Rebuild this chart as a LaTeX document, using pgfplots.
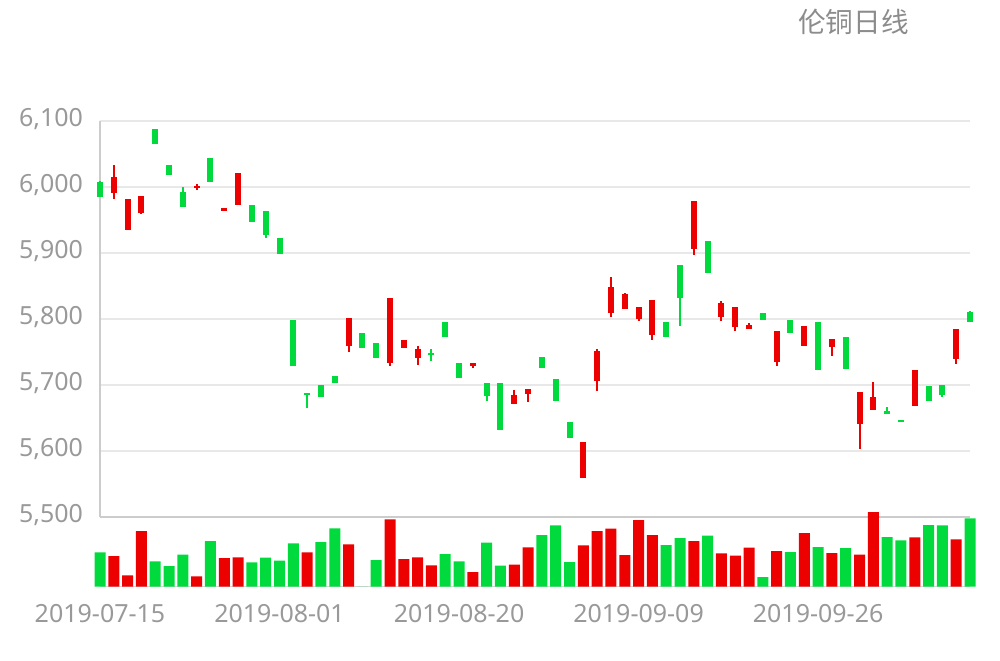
\documentclass[border=0pt]{standalone}
\usepackage{pgfplots}
\pgfplotsset{compat=1.18}
\usepackage{pgfplotstable}
\usepackage{fontspec}
\setmainfont{Noto Sans}
\newfontfamily\cjk{Noto Sans CJK SC}

\definecolor{upred}{HTML}{EC0000}
\definecolor{downgreen}{HTML}{00DA3C}
\definecolor{gridgray}{HTML}{E8E8E8}
\definecolor{axisgray}{HTML}{CCCCCC}
\definecolor{basegray}{HTML}{D6D6D6}
\definecolor{labelgray}{HTML}{999999}
\definecolor{titlegray}{HTML}{8C8C8C}

% daily candles: index, open, close, high, low
\pgfplotstableread{
i o c h l
0 6008 5985 6008 5985
1 5990 6015 6033 5982
2 5934 5982 5982 5934
3 5960 5986 5986 5958
4 6087 6065 6087 6065
5 6033 6017 6033 6017
6 5992 5969 5999 5969
7 5998 6001 6004 5995
8 6043 6007 6043 6007
9 5964 5968 5968 5964
10 5972 6021 6021 5972
11 5973 5947 5973 5947
12 5963 5927 5963 5923
13 5923 5898 5923 5898
14 5798 5729 5798 5729
15 5688 5685 5688 5664
16 5700 5682 5700 5682
17 5713 5703 5713 5703
18 5758 5801 5801 5750
19 5778 5755 5778 5755
20 5763 5741 5763 5741
21 5733 5831 5831 5728
22 5756 5768 5768 5756
23 5740 5754 5759 5730
24 5748 5745 5754 5736
25 5795 5773 5795 5773
26 5733 5711 5733 5711
27 5729 5733 5733 5725
28 5703 5683 5703 5676
29 5703 5631 5703 5631
30 5671 5684 5692 5671
31 5686 5693 5693 5674
32 5742 5726 5742 5726
33 5708 5676 5708 5676
34 5643 5620 5643 5620
35 5559 5613 5613 5559
36 5705 5751 5754 5691
37 5808 5848 5863 5803
38 5815 5838 5839 5815
39 5799 5818 5818 5796
40 5775 5828 5828 5768
41 5795 5772 5795 5772
42 5881 5832 5881 5789
43 5905 5978 5978 5897
44 5918 5870 5918 5870
45 5802 5824 5827 5797
46 5788 5817 5817 5781
47 5785 5791 5794 5785
48 5808 5798 5808 5798
49 5735 5781 5781 5729
50 5798 5779 5798 5779
51 5759 5789 5789 5759
52 5795 5722 5795 5722
53 5757 5770 5770 5744
54 5773 5724 5773 5724
55 5640 5689 5689 5602
56 5661 5681 5704 5661
57 5660 5655 5666 5655
58 5647 5643 5647 5643
59 5668 5723 5723 5668
60 5698 5675 5698 5675
61 5699 5684 5699 5681
62 5739 5784 5784 5732
63 5811 5795 5811 5795
}\kline

% volume (relative), up=1 red, up=0 green
\pgfplotstableread{
i v up
0 34.4 0
1 30.7 1
2 11.3 1
3 55.7 1
4 25.3 0
5 20.7 0
6 32.0 0
7 10.3 1
8 45.7 0
9 28.7 1
10 29.3 1
11 24.3 0
12 29.0 0
13 26.0 0
14 43.3 0
15 34.3 1
16 44.7 0
17 58.3 0
18 42.3 1
19 0 0
20 26.7 0
21 67.3 1
22 27.7 1
23 29.3 1
24 21.3 1
25 32.7 0
26 25.3 0
27 14.7 1
28 44.0 0
29 21.0 0
30 22.0 1
31 39.4 1
32 51.7 0
33 61.4 0
34 24.7 0
35 41.4 1
36 55.7 1
37 58.0 1
38 31.7 1
39 66.7 1
40 51.7 1
41 41.7 0
42 48.7 0
43 45.7 1
44 51.0 0
45 33.4 1
46 31.0 1
47 39.0 1
48 9.7 0
49 35.7 1
50 34.7 0
51 53.7 1
52 39.7 0
53 33.7 1
54 38.7 0
55 32.0 1
56 74.7 1
57 49.7 0
58 46.4 0
59 49.4 1
60 61.7 0
61 61.4 0
62 47.4 1
63 68.4 0
}\vol

\begin{document}
\begin{tikzpicture}
  \path[use as bounding box] (0,0) rectangle (500pt,330pt);

  % --- price (candles) ---
  \begin{axis}[
    at={(50pt,71.65pt)}, anchor=south west,
    scale only axis, width=435pt, height=198pt,
    xmin=0, xmax=63, ymin=5500, ymax=6100,
    clip=false,
    axis lines=left,
    axis line style={-, draw=axisgray, line width=1pt},
    xtick=\empty,
    ytick={5500,5600,...,6100},
    ymajorgrids,
    major grid style={draw=gridgray, line width=0.8pt},
    major tick length=0pt,
    yticklabel style={text=labelgray, font=\fontsize{12.5}{15}\selectfont, xshift=-5pt, yshift=1pt},
    /pgf/number format/1000 sep={,},
    /pgf/number format/assume math mode=true,
  ]
  % wicks
  \addplot[draw=none, mark=none,
    restrict expr to domain={\thisrow{c}-\thisrow{o}}{0:1000},
    error bars/.cd, y dir=both, y explicit, error mark=none,
    error bar style={draw=upred, line width=1pt}]
    table[x=i, y expr={(\thisrow{o}+\thisrow{c})/2},
      y error plus expr={\thisrow{h}-(\thisrow{o}+\thisrow{c})/2},
      y error minus expr={(\thisrow{o}+\thisrow{c})/2-\thisrow{l}}] {\kline};
  \addplot[draw=none, mark=none,
    restrict expr to domain={\thisrow{c}-\thisrow{o}}{-1000:0},
    error bars/.cd, y dir=both, y explicit, error mark=none,
    error bar style={draw=downgreen, line width=1pt}]
    table[x=i, y expr={(\thisrow{o}+\thisrow{c})/2},
      y error plus expr={\thisrow{h}-(\thisrow{o}+\thisrow{c})/2},
      y error minus expr={(\thisrow{o}+\thisrow{c})/2-\thisrow{l}}] {\kline};
  % bodies
  \addplot[draw=none, mark=none,
    restrict expr to domain={\thisrow{c}-\thisrow{o}}{0:1000},
    error bars/.cd, y dir=both, y explicit, error mark=none,
    error bar style={draw=upred, line width=3pt}]
    table[x=i, y expr={(\thisrow{o}+\thisrow{c})/2},
      y error expr={abs(\thisrow{c}-\thisrow{o})/2}] {\kline};
  \addplot[draw=none, mark=none,
    restrict expr to domain={\thisrow{c}-\thisrow{o}}{-1000:0},
    error bars/.cd, y dir=both, y explicit, error mark=none,
    error bar style={draw=downgreen, line width=3pt}]
    table[x=i, y expr={(\thisrow{o}+\thisrow{c})/2},
      y error expr={abs(\thisrow{c}-\thisrow{o})/2}] {\kline};
  \end{axis}

  % --- volume ---
  \begin{axis}[
    at={(50pt,36.65pt)}, anchor=south west,
    scale only axis, width=435pt, height=50pt,
    xmin=0, xmax=63, ymin=0, ymax=100,
    clip=false,
    axis y line=none, axis x line=bottom,
    x axis line style={-, draw=basegray, line width=0.75pt},
    ytick=\empty,
    xtick={0,13,26,39,52},
    xticklabels={2019-07-15,2019-08-01,2019-08-20,2019-09-09,2019-09-26},
    major tick length=0pt,
    xticklabel style={text=labelgray, font=\fontsize{12.5}{15}\selectfont, yshift=-5.5pt},
  ]
  \addplot[ybar, bar width=5.5pt, bar shift=0pt, fill=upred, draw=none,
    restrict expr to domain={\thisrow{up}}{1:1}] table[x=i, y=v] {\vol};
  \addplot[ybar, bar width=5.5pt, bar shift=0pt, fill=downgreen, draw=none,
    restrict expr to domain={\thisrow{up}}{0:0}] table[x=i, y=v] {\vol};
  \end{axis}

  \node[text=titlegray, font=\cjk\fontsize{13.8}{16}\selectfont] at (426.75pt,319.25pt) {伦铜日线};
\end{tikzpicture}
\end{document}
